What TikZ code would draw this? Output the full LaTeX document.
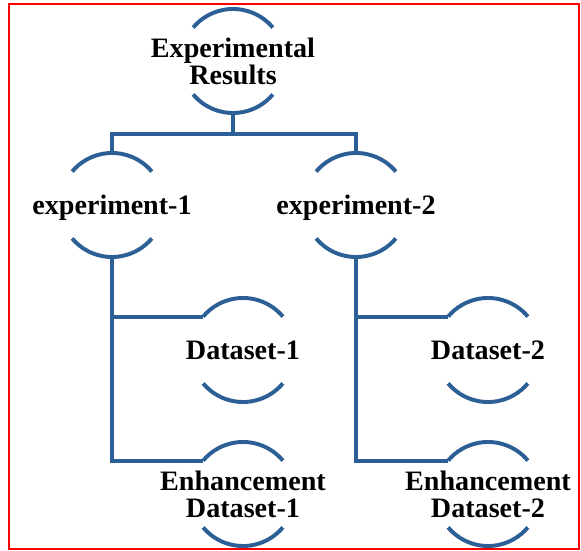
\documentclass[tikz,border=0pt]{standalone}
\usepackage{fontspec}
\setmainfont{Liberation Serif}
\usepackage{tikz}

\definecolor{ringblue}{RGB}{44,95,150}
\newcommand{\ringtext}[1]{\raisebox{-0.29cm}[0pt][0pt]{\makebox[0pt]{\begin{tabular}{@{}c@{}}#1\end{tabular}}}}

\tikzset{
	ring/.style={circle, minimum size=2.6cm, inner sep=0pt, outer sep=0pt},
	link/.style={draw=ringblue, line width=2.8pt}
}

\begin{document}
\begin{tikzpicture} [x=0.025cm, y=0.025cm, font=\bfseries\fontsize{20}{19.5}\selectfont]
		\useasboundingbox (0,0) rectangle (581,-551);
		\draw[red, line width=1pt] (9,-4) rectangle (579,-549);
		\foreach \nm/\x/\y/\txt in {R/233/61/{Experimental\\Results}, E-1/112/205/{experiment-1}, E-2/356/205/{experiment-2}, D-1/243/350/{Dataset-1}, D-2/488/350/{Dataset-2}, H-1/243/494/{Enhancement\\Dataset-1}, H-2/488/494/{Enhancement\\Dataset-2}}{%
			\node[ring] (\nm) at (\x,-\y) {\ringtext{\txt}};
		}
		\foreach \nm in {R,E-1,E-2,D-1,D-2,H-1,H-2}{%
			\draw[link] (\nm.40) arc[start angle=40, end angle=140, radius=1.3cm];
			\draw[link] (\nm.220) arc[start angle=220, end angle=320, radius=1.3cm];
		}
		\draw[link] (R.south) -- ++(0,-21) -| (E-1.north);
		\draw[link] (R.south) -- ++(0,-21) -| (E-2.north);
		\foreach \x in {1,2}{%
			\draw[link] (E-\x.south) |- (D-\x.140);
			\draw[link] (E-\x.south) |- (H-\x.140);
		}
\end{tikzpicture}
\end{document}
